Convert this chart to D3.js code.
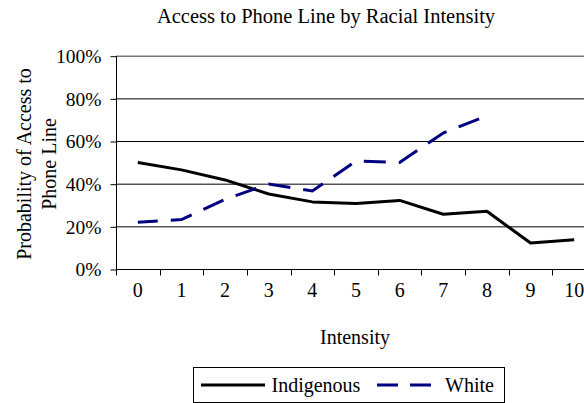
<!DOCTYPE html>
<html>
<head>
<meta charset="utf-8">
<script src="https://cdn.jsdelivr.net/npm/d3@7"></script>
<style>
  html, body { margin: 0; padding: 0; background: #fff; }
  svg { display: block; font-family: "Liberation Serif", "Times New Roman", serif; }
  svg text { font-family: "Liberation Serif", "Times New Roman", serif; }
</style>
</head>
<body>
<svg id="chart" width="584" height="403"></svg>
<script>
const categories = ["0","1","2","3","4","5","6","7","8","9","10"];
const indigenous = [0.502, 0.467, 0.420, 0.354, 0.317, 0.309, 0.324, 0.259, 0.273, 0.124, 0.139];
const white = [0.221, 0.234, 0.329, 0.401, 0.368, 0.508, 0.502, 0.640, 0.721];
const yTicks = [0, 0.2, 0.4, 0.6, 0.8, 1.0];
const seriesNames = ["Indigenous", "White"];

(function () {
const svg = d3.select("#chart");
const pLeft = 116, pRight = 596, pTop = 56.2, pBottom = 269.5;
const FS = 20;

const x = d3.scaleBand().domain(categories).range([pLeft, pRight]).padding(0);
const y = d3.scaleLinear().domain([0, 1]).range([pBottom, pTop]);

// title
svg.append("text").attr("x", 326).attr("y", 23).attr("text-anchor", "middle")
  .attr("font-size", 20.5).attr("fill", "#000").text("Access to Phone Line by Racial Intensity");

// gridlines
svg.append("g").selectAll("line").data(yTicks.filter(d => d > 0)).join("line")
  .attr("x1", pLeft).attr("x2", pRight)
  .attr("y1", d => y(d)).attr("y2", d => y(d))
  .attr("stroke", d => d === 1 ? "#777" : "#000").attr("stroke-width", d => d === 1 ? 1.6 : 1);

// y axis
const yAxis = d3.axisLeft(y).tickValues(yTicks).tickFormat(d3.format(".0%")).tickSize(6).tickPadding(9);
const gy = svg.append("g").attr("transform", `translate(${pLeft + 0.5},0)`).call(yAxis);
gy.attr("font-family", null).attr("font-size", null);
gy.select(".domain").attr("stroke", "#000").attr("d", `M0,${y(1)}V${y(0)}`);
gy.selectAll(".tick line").attr("stroke", "#000");
gy.selectAll(".tick text").attr("font-size", FS - 0.5).attr("fill", "#000").attr("dy", "0.33em");

// x axis
const xAxis = d3.axisBottom(x).tickSize(0).tickPadding(0);
const gx = svg.append("g").attr("transform", `translate(0,${pBottom})`).call(xAxis);
gx.attr("font-family", null).attr("font-size", null);
gx.select(".domain").attr("stroke", "#000").attr("d", `M${pLeft},0H${pRight}`);
gx.selectAll(".tick text").attr("font-size", FS).attr("fill", "#000").attr("y", 27.5).attr("dy", 0);
gx.append("g").selectAll("line").data(categories).join("line")
  .attr("x1", d => Math.round(x(d)) + 0.5).attr("x2", d => Math.round(x(d)) + 0.5)
  .attr("y1", 0).attr("y2", 6).attr("stroke", "#000");

// axis titles
svg.append("text").attr("x", 355).attr("y", 344).attr("text-anchor", "middle")
  .attr("font-size", FS).attr("fill", "#000").text("Intensity");
const yt = svg.append("text").attr("transform", "translate(0,164) rotate(-90)")
  .attr("text-anchor", "middle").attr("font-size", FS).attr("fill", "#000");
yt.append("tspan").attr("x", 0).attr("y", 31).text("Probability of Access to");
yt.append("tspan").attr("x", 0).attr("y", 56).text("Phone Line");

// lines
const line = d3.line().x((d, i) => x(categories[i]) + x.bandwidth() / 2).y(d => y(d));
svg.append("path").datum(indigenous).attr("d", line).attr("fill", "none")
  .attr("stroke", "#000").attr("stroke-width", 3).attr("stroke-linejoin", "round");
svg.append("path").datum(white).attr("d", line).attr("fill", "none")
  .attr("stroke", "#000080").attr("stroke-width", 3)
  .attr("stroke-dasharray", "22,13").attr("stroke-dashoffset", 2);

// legend
const lg = svg.append("g");
lg.append("rect").attr("x", 193.5).attr("y", 367.5).attr("width", 311).attr("height", 35)
  .attr("fill", "#fff").attr("stroke", "#000").attr("stroke-width", 1);
lg.append("line").attr("x1", 201).attr("x2", 265).attr("y1", 385).attr("y2", 385)
  .attr("stroke", "#000").attr("stroke-width", 3);
lg.append("text").attr("x", 271.5).attr("y", 391.5).attr("font-size", FS).attr("fill", "#000").text(seriesNames[0]);
lg.append("line").attr("x1", 377).attr("x2", 432).attr("y1", 385).attr("y2", 385)
  .attr("stroke", "#000080").attr("stroke-width", 3).attr("stroke-dasharray", "21,12");
lg.append("text").attr("x", 445).attr("y", 391.5).attr("font-size", FS).attr("fill", "#000").text(seriesNames[1]);
})();
</script>
</body>
</html>
